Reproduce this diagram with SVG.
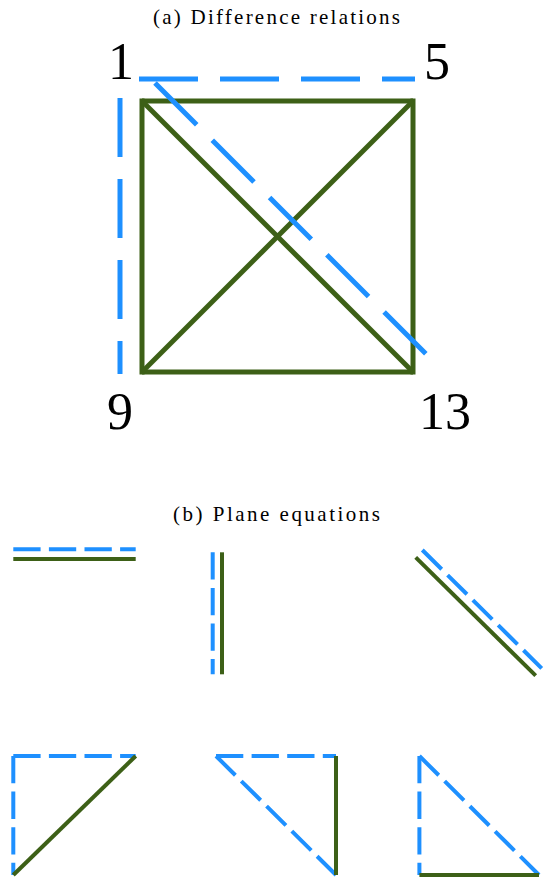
<svg xmlns="http://www.w3.org/2000/svg" width="545" height="877" viewBox="0 0 545 877">
<style>
.bg{fill:#ffffff}
.title{font-family:"Liberation Serif",serif;font-size:21px;fill:#000;text-anchor:middle}
.lbl{font-family:"Liberation Serif",serif;font-size:52px;fill:#000;text-anchor:middle}
.ga{stroke:#3d6017;stroke-width:5;fill:none;stroke-linecap:butt}
.ba{stroke:#1e90ff;stroke-width:5;fill:none;stroke-dasharray:59 22}
.gb{stroke:#3d6017;stroke-width:4;fill:none}
.bb{stroke:#1e90ff;stroke-width:4;fill:none;stroke-dasharray:27.3 8.3}
</style>
<rect class="bg" x="0" y="0" width="545" height="877"/>
<text class="title" x="276.5" y="24" textLength="247" lengthAdjust="spacing">(a) Difference relations</text>
<g id="node-1"><text class="lbl" x="121" y="79">1</text></g>
<g id="node-5"><text class="lbl" x="437" y="79">5</text></g>
<g id="node-9"><text class="lbl" x="120" y="429">9</text></g>
<g id="node-13"><text class="lbl" x="445" y="429">13</text></g>
<g id="connectors-a">
<line class="ga" x1="142" y1="101" x2="413" y2="101"/>
<line class="ga" x1="142" y1="372" x2="413" y2="372"/>
<line class="ga" x1="142" y1="98.5" x2="142" y2="374.5"/>
<line class="ga" x1="413" y1="98.5" x2="413" y2="374.5"/>
<line class="ga" x1="142" y1="101" x2="413" y2="372"/>
<line class="ga" x1="142" y1="372" x2="413" y2="101"/>
<line class="ba" x1="139" y1="79" x2="415" y2="79"/>
<line class="ba" x1="120" y1="98" x2="120" y2="374"/>
<line class="ba" x1="155" y1="83" x2="427" y2="355"/>
</g>
<text class="title" x="276.5" y="521" textLength="207" lengthAdjust="spacing">(b) Plane equations</text>
<g id="plane-1">
<line class="bb" x1="13.3" y1="549.3" x2="135.7" y2="549.3"/>
<line class="gb" x1="13.3" y1="559" x2="135.7" y2="559"/>
</g>
<g id="plane-2">
<line class="bb" x1="212.7" y1="552.3" x2="212.7" y2="674.3"/>
<line class="gb" x1="222" y1="552.3" x2="222" y2="674.3"/>
</g>
<g id="plane-3">
<line class="bb" x1="422.3" y1="550" x2="541.7" y2="668.3"/>
<line class="gb" x1="415.7" y1="557.3" x2="535.7" y2="675.7"/>
</g>
<g id="plane-4">
<line class="bb" x1="13.3" y1="756" x2="135.7" y2="756"/>
<line class="bb" x1="13.3" y1="756" x2="13.3" y2="875"/>
<line class="gb" x1="135.7" y1="756" x2="13.3" y2="875"/>
</g>
<g id="plane-5">
<line class="bb" x1="216" y1="756" x2="336" y2="756"/>
<line class="bb" x1="216" y1="756" x2="336" y2="875"/>
<line class="gb" x1="336" y1="756" x2="336" y2="875"/>
</g>
<g id="plane-6">
<line class="bb" x1="419.4" y1="756" x2="419.4" y2="875"/>
<line class="bb" x1="419.4" y1="756" x2="539" y2="875"/>
<line class="gb" x1="419.4" y1="875" x2="539" y2="875"/>
</g>
</svg>
